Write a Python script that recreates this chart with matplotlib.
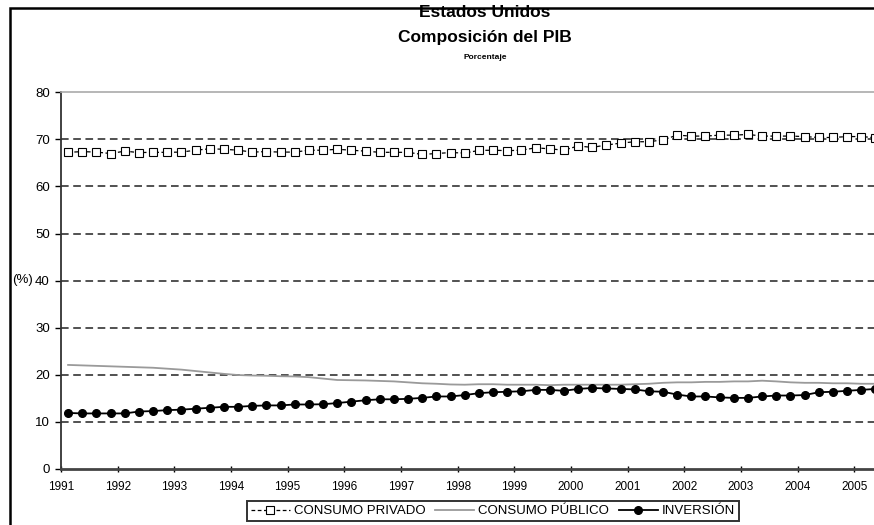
import numpy as np
import matplotlib
matplotlib.use('Agg')
import matplotlib.pyplot as plt
from matplotlib.patches import Rectangle

plt.rcParams['font.family'] = ['Liberation Sans', 'DejaVu Sans']

# datos trimestrales 1991T1 - 2005T2 (porcentaje del PIB)
anios = ['1991', '1992', '1993', '1994', '1995', '1996', '1997', '1998',
         '1999', '2000', '2001', '2002', '2003', '2004', '2005']

consumo_privado = [67.25, 67.4, 67.3, 67.0, 67.5, 67.2, 67.25, 67.25, 67.3, 67.7,
                   68.0, 67.9, 67.7, 67.3, 67.4, 67.3, 67.3, 67.7, 67.7, 67.9,
                   67.7, 67.5, 67.25, 67.25, 67.25, 66.8, 67.0, 67.2, 67.1, 67.65,
                   67.7, 67.6, 67.7, 68.2, 68.0, 67.7, 68.6, 68.3, 68.8, 69.2,
                   69.5, 69.5, 69.9, 70.9, 70.7, 70.7, 70.9, 70.9, 71.05, 70.7,
                   70.7, 70.7, 70.6, 70.4, 70.4, 70.6, 70.6, 70.35]

consumo_publico = [22.1, 22.0, 21.9, 21.8, 21.7, 21.6, 21.5, 21.3, 21.1, 20.8,
                   20.5, 20.2, 19.95, 19.85, 19.8, 19.7, 19.65, 19.5, 19.2, 18.9,
                   18.85, 18.8, 18.7, 18.6, 18.4, 18.2, 18.1, 17.95, 17.9, 18.0,
                   18.0, 17.9, 17.9, 17.9, 17.8, 17.9, 17.9, 17.9, 17.9, 17.9,
                   18.0, 18.1, 18.3, 18.4, 18.4, 18.5, 18.5, 18.6, 18.6, 18.75,
                   18.6, 18.4, 18.3, 18.3, 18.2, 18.2, 18.1, 18.1]

inversion = [11.9, 11.8, 11.8, 11.8, 11.8, 12.2, 12.3, 12.5, 12.6, 12.8,
             13.0, 13.2, 13.2, 13.4, 13.5, 13.5, 13.7, 13.7, 13.75, 14.0,
             14.3, 14.6, 14.8, 14.8, 14.9, 15.1, 15.4, 15.4, 15.7, 16.1,
             16.3, 16.4, 16.5, 16.8, 16.8, 16.6, 17.0, 17.2, 17.1, 17.0,
             16.9, 16.5, 16.4, 15.8, 15.4, 15.4, 15.2, 15.1, 15.1, 15.4,
             15.6, 15.6, 15.7, 16.3, 16.4, 16.6, 16.8, 17.0]

x = np.arange(len(inversion)) + 0.5

fig = plt.figure(figsize=(8.74, 5.25), dpi=100)
# eje como en excel: categorias, sale un poco por la derecha
ax = fig.add_axes([0.0698, 0.1067, 0.9724, 0.7175])

for v in range(10, 80, 10):
    ax.axhline(v, color='#222222', lw=1.1, dashes=(5, 3), zorder=1)

ax.plot(x, consumo_privado, color='black', lw=0.9, dashes=(3, 2), marker='s',
        markersize=5.5, markerfacecolor='white', markeredgecolor='black',
        markeredgewidth=0.8, label='CONSUMO PRIVADO', zorder=3)
ax.plot(x, consumo_publico, color='#9a9a9a', lw=1.3, label='CONSUMO PÚBLICO', zorder=2)
ax.plot(x, inversion, color='black', lw=1.3, marker='o', markersize=5.5,
        label='INVERSIÓN', zorder=3)

ax.set_xlim(0, 60)
ax.set_ylim(0, 80)
ax.set_yticks(range(0, 81, 10))
ax.set_xticks(np.arange(0, 4 * len(anios), 4))
ax.set_xticklabels(anios)

ax.spines['top'].set_color('#aaaaaa')
ax.spines['top'].set_linewidth(1.2)
ax.spines['right'].set_visible(False)
ax.spines['left'].set_color('#333333')
ax.spines['left'].set_linewidth(1.3)
ax.spines['bottom'].set_color('#444444')
ax.spines['bottom'].set_linewidth(2.0)

ax.tick_params(axis='y', direction='out', length=4, width=1, pad=4, labelsize=9.5)
ax.tick_params(axis='x', direction='inout', length=4, width=1, pad=7, labelsize=8.5)

fig.text(0.555, 0.977, 'Estados Unidos', ha='center', va='center',
         fontsize=12.5, fontweight='bold')
fig.text(0.555, 0.928, 'Composición del PIB', ha='center', va='center',
         fontsize=12.5, fontweight='bold')
fig.text(0.555, 0.891, 'Porcentaje', ha='center', va='center',
         fontsize=6, fontweight='bold')
fig.text(0.026, 0.467, '(%)', ha='center', va='center', fontsize=9.5)

# marco del grafico
fig.add_artist(Rectangle((10 / 874, -0.1), 1.2, 1.1 - 8 / 525,
                         transform=fig.transFigure, fill=False,
                         edgecolor='black', lw=1.8))

leg = fig.legend(loc='center', bbox_to_anchor=(0.564, 0.026), ncol=3,
                 fontsize=9.5, frameon=True, fancybox=False, handlelength=3.0,
                 columnspacing=0.7, handletextpad=0.3, borderpad=0.3)
leg.get_frame().set_edgecolor('black')
leg.get_frame().set_linewidth(1.4)

fig.savefig('out.png', dpi=100)
